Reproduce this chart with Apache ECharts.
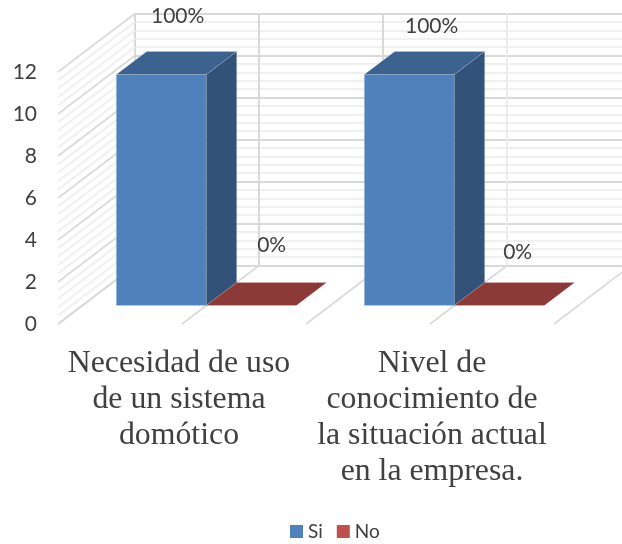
<!DOCTYPE html>
<html>
<head>
<meta charset="utf-8">
<style>html,body{margin:0;padding:0;background:#fff}#chart{width:622px;height:544px}</style>
<script src="https://cdn.jsdelivr.net/npm/echarts@6/dist/echarts.min.js"></script>
</head>
<body>
<div id="chart"></div>
<script>
// Survey answers per question
const categories = ['Necesidad de uso\nde un sistema\ndomótico', 'Nivel de\nconocimiento de\nla situación actual\nen la empresa.'];
const siValues = [11, 11];
const noValues = [0, 0];
const axisMax = 12;
const axisStep = 2;
const minorSplits = 5;

// Oblique projection: how far the back wall sits from the front plane, in pixels
const DEPTH = { x: 77, y: -58.5 };
const BAR_DEPTH = { from: 0.316, to: 0.71 };
const BAR_BAND_SHARE = 90 / 248;
// Hand-placed data labels, relative to the centre of each bar's back top edge
const siLabelNudge = [[-14, -35], [-8, -25]];
const noLabelNudge = [[-10, -37], [-12, -30]];

const TEXT = '#404040';
const MAJOR = '#d9d9d9';
const MINOR = '#f0f0f0';

const share = (v, i) => Math.round(100 * v / (siValues[i] + noValues[i])) + '%';

// Extruded bar with a front face, a right side and a lid
function barRenderer(slot, front, lid, side, nudges) {
  return function (params, api) {
    const idx = api.value(0), val = api.value(1);
    const band = api.size([1, 0])[0];
    const w = band * BAR_BAND_SHARE;
    const base = api.coord([idx, 0]);
    const head = api.coord([idx, val]);
    const x0 = base[0] + slot * w + DEPTH.x * BAR_DEPTH.from;
    const x1 = x0 + w;
    const yb = base[1] + DEPTH.y * BAR_DEPTH.from;
    const yt = head[1] + DEPTH.y * BAR_DEPTH.from;
    const dx = DEPTH.x * (BAR_DEPTH.to - BAR_DEPTH.from);
    const dy = DEPTH.y * (BAR_DEPTH.to - BAR_DEPTH.from);
    const edge = { stroke: 'rgba(255,255,255,0.15)', lineWidth: 1 };
    const poly = (points, fill) => ({
      type: 'polygon', shape: { points }, style: Object.assign({ fill }, edge)
    });
    const kids = [];
    if (val > 0) {
      kids.push(poly([[x0, yt], [x1, yt], [x1, yb], [x0, yb]], front));
      kids.push(poly([[x1, yt], [x1 + dx, yt + dy], [x1 + dx, yb + dy], [x1, yb]], side));
    }
    kids.push(poly([[x0, yt], [x1, yt], [x1 + dx, yt + dy], [x0 + dx, yt + dy]], lid));
    kids.push({
      type: 'text',
      style: {
        text: share(val, idx),
        x: x0 + w / 2 + dx + nudges[idx][0],
        y: yt + dy + nudges[idx][1],
        align: 'center', verticalAlign: 'middle',
        font: '21px Lato', fill: TEXT
      }
    });
    return { type: 'group', children: kids };
  };
}

// Tick values climbing the left wall
const wallTicks = [];
for (let i = 0; i <= axisMax / axisStep * minorSplits; i++) wallTicks.push(i);

// Category caption styles: each text block sits slightly off its slot centre
const captionBase = { fontFamily: 'Liberation Serif', fontSize: 31.8, lineHeight: 36, color: TEXT };

const option = {
  animation: false,
  backgroundColor: '#fff',
  grid: [
    { left: 58, top: 72, width: 496, height: 252, outerBoundsMode: 'none' },
    { left: 135, top: 13.5, width: 496, height: 252, outerBoundsMode: 'none' }
  ],
  xAxis: [
    {
      gridIndex: 0, type: 'category', data: categories,
      axisLine: { show: false }, axisTick: { show: false },
      axisLabel: {
        interval: 0, margin: 22, verticalAlign: 'top',
        formatter(value, index) {
          const tag = index === 0 ? 'first' : 'second';
          return value.split('\n').map(line => `{${tag}|${line}}`).join('\n');
        },
        rich: {
          first: Object.assign({ padding: [0, 6, 0, 0] }, captionBase),
          second: Object.assign({ padding: [0, 0, 0, 4] }, captionBase)
        }
      }
    },
    { gridIndex: 0, type: 'value', min: 0, max: 4, show: false },
    {
      gridIndex: 1, type: 'value', min: 0, max: 4, interval: 1,
      axisLine: { show: false }, axisTick: { show: false }, axisLabel: { show: false },
      splitLine: { show: true, lineStyle: { color: [MAJOR, MAJOR, MAJOR, '#ececec', MAJOR], width: 2 } }
    }
  ],
  yAxis: [
    {
      gridIndex: 0, type: 'value', min: 0, max: axisMax, interval: axisStep,
      axisLine: { show: false }, axisTick: { show: false }, splitLine: { show: false },
      axisLabel: { margin: 21, fontFamily: 'Lato', fontSize: 21, color: TEXT }
    },
    {
      gridIndex: 1, type: 'value', min: 0, max: axisMax, interval: axisStep,
      axisLine: { show: false }, axisLabel: { show: false },
      axisTick: { show: false },
      minorTick: { show: false, splitNumber: minorSplits },
      splitLine: { show: true, lineStyle: { color: MAJOR, width: 2 } },
      minorSplitLine: { show: true, lineStyle: { color: MINOR, width: 2 } }
    }
  ],
  legend: {
    left: 285, top: 517, icon: 'rect', itemWidth: 13, itemHeight: 13, itemGap: 14,
    data: ['Si', 'No'],
    textStyle: { fontFamily: 'Lato', fontSize: 19, color: TEXT, padding: [0, 0, 0, 0] }
  },
  series: [
    {
      // Left wall stripes, running from the front plane back to the wall
      type: 'custom', name: 'wall', silent: true, z: 1,
      xAxisIndex: 1, yAxisIndex: 0,
      data: wallTicks,
      encode: { y: 0 },
      renderItem(params, api) {
        const k = api.value(0);
        const p = api.coord([0, k * axisStep / minorSplits]);
        const major = k % minorSplits === 0;
        return {
          type: 'line',
          shape: { x1: p[0], y1: p[1], x2: p[0] + DEPTH.x, y2: p[1] + DEPTH.y },
          style: { stroke: major ? MAJOR : MINOR, lineWidth: major ? 1.6 : 2 }
        };
      }
    },
    {
      // Floor lines between the category slots
      type: 'custom', name: 'floor', silent: true, z: 1,
      xAxisIndex: 1, yAxisIndex: 0,
      data: [0, 1, 2, 3, 4],
      encode: { x: 0 },
      renderItem(params, api) {
        const p = api.coord([api.value(0), 0]);
        return {
          type: 'line',
          shape: { x1: p[0], y1: p[1], x2: p[0] + DEPTH.x, y2: p[1] + DEPTH.y },
          style: { stroke: MAJOR, lineWidth: 1.6 }
        };
      }
    },
    {
      type: 'custom', name: 'Si', z: 3,
      xAxisIndex: 0, yAxisIndex: 0,
      itemStyle: { color: '#4f81bd' },
      data: siValues.map((v, i) => [i, v]),
      encode: { x: 0, y: 1 },
      renderItem: barRenderer(-1, '#4f81bd', '#3c6290', '#325279', siLabelNudge)
    },
    {
      type: 'custom', name: 'No', z: 3,
      xAxisIndex: 0, yAxisIndex: 0,
      itemStyle: { color: '#c0504d' },
      data: noValues.map((v, i) => [i, v]),
      encode: { x: 0, y: 1 },
      renderItem: barRenderer(0, '#c0504d', '#8c3a38', '#773230', noLabelNudge)
    }
  ]
};

echarts.init(document.getElementById('chart'), null, { renderer: 'canvas' }).setOption(option);
</script>
</body>
</html>
